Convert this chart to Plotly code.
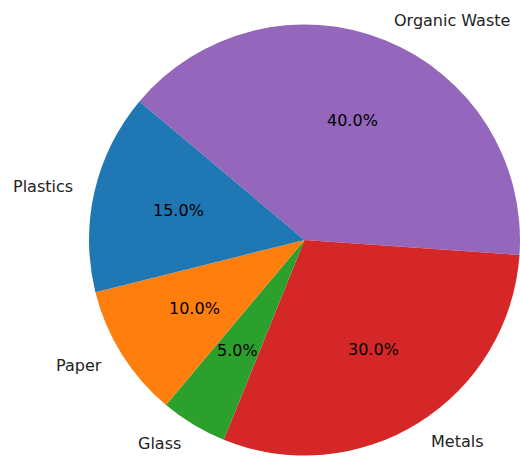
import math
import plotly.graph_objects as go

categories = ["Plastics", "Paper", "Glass", "Metals", "Organic Waste"]
shares = [15, 10, 5, 30, 40]
colors = ["#1f77b4", "#ff7f0e", "#2ca02c", "#d62728", "#9467bd"]

W, H = 520, 461
start_angle = 140  # degrees, math convention, counterclockwise order
dom_x = [89 / W, 1.0]
dom_y = [3 / H, 439 / H]

# pie geometry in pixels (plotly: radius = half the smaller domain side)
px_w = (dom_x[1] - dom_x[0]) * W
px_h = (dom_y[1] - dom_y[0]) * H
R = min(px_w, px_h) / 2
cx = (dom_x[0] + dom_x[1]) / 2 * W
cy = (1 - (dom_y[0] + dom_y[1]) / 2) * H  # from top

fig = go.Figure()
fig.add_trace(go.Pie(
    labels=categories[::-1],
    values=shares[::-1],
    marker=dict(colors=colors[::-1], line=dict(width=0)),
    sort=False,
    direction="clockwise",
    rotation=90 - start_angle,
    textinfo="none",
    hoverinfo="label+percent",
    domain=dict(x=dom_x, y=dom_y),
    showlegend=False,
))

total = sum(shares)
annotations = []
acc = 0.0
for name, v in zip(categories, shares):
    a0 = start_angle + 360 * acc / total
    acc += v
    a1 = start_angle + 360 * acc / total
    mid = math.radians((a0 + a1) / 2)
    c, s = math.cos(mid), math.sin(mid)
    # percentage label at 0.6 R
    px_, py_ = cx + 0.6 * R * c, cy - 0.6 * R * s
    annotations.append(dict(
        x=px_ / W, y=1 - py_ / H, xref="paper", yref="paper",
        text=f"{100 * v / total:.1f}%", showarrow=False,
        xanchor="center", yanchor="middle",
        font=dict(family="DejaVu Sans", size=16, color="#000000"),
    ))
    # category label at 1.1 R
    lx, ly = cx + 1.1 * R * c, cy - 1.1 * R * s
    annotations.append(dict(
        x=lx / W, y=1 - ly / H, xref="paper", yref="paper",
        text=name, showarrow=False,
        xanchor="left" if c > 0 else "right", yanchor="middle",
        font=dict(family="DejaVu Sans", size=16, color="#222222"),
        borderpad=0,
    ))

fig.update_layout(
    width=W, height=H,
    margin=dict(l=0, r=0, t=0, b=0),
    paper_bgcolor="white", plot_bgcolor="white",
    annotations=annotations,
)

fig.write_html("out.html")
